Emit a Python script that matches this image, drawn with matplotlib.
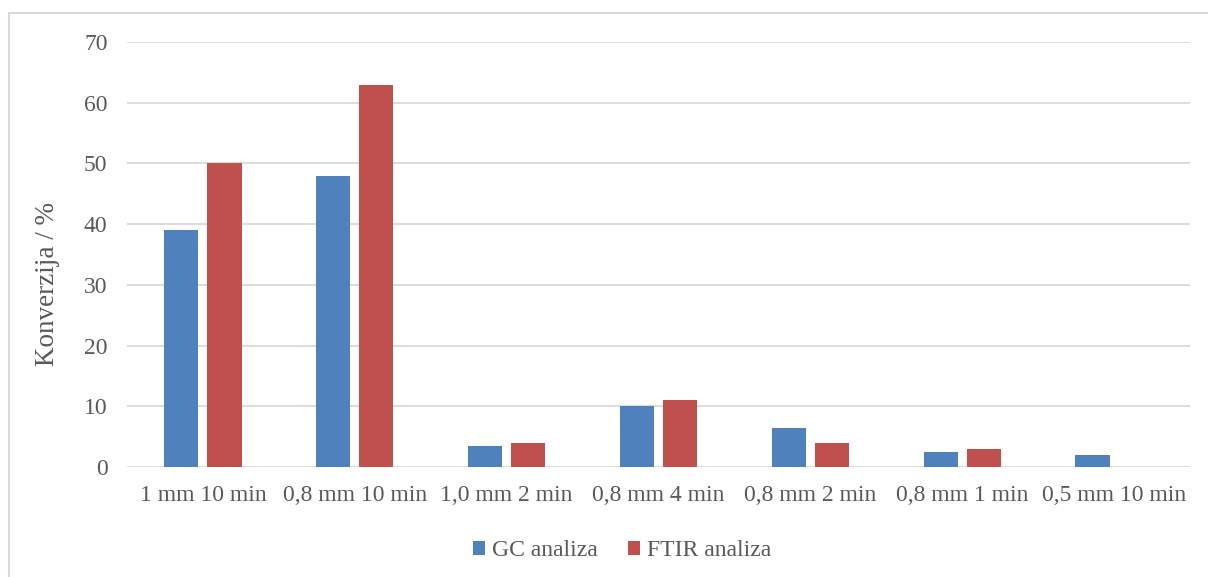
import matplotlib
matplotlib.use("Agg")
import matplotlib.pyplot as plt
import numpy as np

# Data
categories = ['1 mm 10 min', '0,8 mm 10 min', '1,0 mm 2 min', '0,8 mm 4 min',
              '0,8 mm 2 min', '0,8 mm 1 min', '0,5 mm 10 min']
gc_values = [39, 48, 3.5, 10, 6.4, 2.4, 2.0]
ftir_values = [50, 63, 4, 11, 4, 3, 0]
series_names = ['GC analiza', 'FTIR analiza']

plt.rcParams['font.family'] = ['Liberation Serif', 'DejaVu Serif']
text_col = '#595959'

W, H = 1208, 577
fig = plt.figure(figsize=(W / 100, H / 100), dpi=100)
ax = fig.add_axes([127 / W, 1 - 467 / H, (1190 - 127) / W, (467 - 42) / H])

x = np.arange(len(categories))
bw = 0.224
off = 0.142
ax.bar(x - off, gc_values, bw, color='#4F81BD', label=series_names[0], zorder=3)
ax.bar(x + off, ftir_values, bw, color='#C0504D', label=series_names[1], zorder=3)

ax.set_xlim(-0.5, len(categories) - 0.5)
ax.set_ylim(0, 70)
ax.set_yticks(range(0, 71, 10))
ax.set_xticks(x)
ax.set_xticklabels(categories)
ax.grid(axis='y', color='#D9D9D9', lw=1.3, zorder=0)
for s in ax.spines.values():
    s.set_visible(False)
ax.tick_params(length=0, labelsize=17, colors=text_col)
ax.tick_params(axis='x', pad=13)
ax.tick_params(axis='y', pad=14)
fig.text(48 / W, 1 - 284 / H, 'Konverzija / %', rotation=90, ha='center',
         va='center', fontsize=19.5, color=text_col)

fig.legend(loc='center', bbox_to_anchor=(622 / W, 1 - 551 / H), ncol=2, frameon=False,
           fontsize=17, labelcolor=text_col, handlelength=0.5, handleheight=0.5,
           handletextpad=0.3, columnspacing=1.3)

# light grey chart border
fig.patches.append(plt.Rectangle((9 / W, -0.01), 1.0, 1 - 13 / H + 0.01,
                                 transform=fig.transFigure, fill=False,
                                 edgecolor='#D9D9D9', lw=1.5))

fig.savefig('out.png', dpi=100)
